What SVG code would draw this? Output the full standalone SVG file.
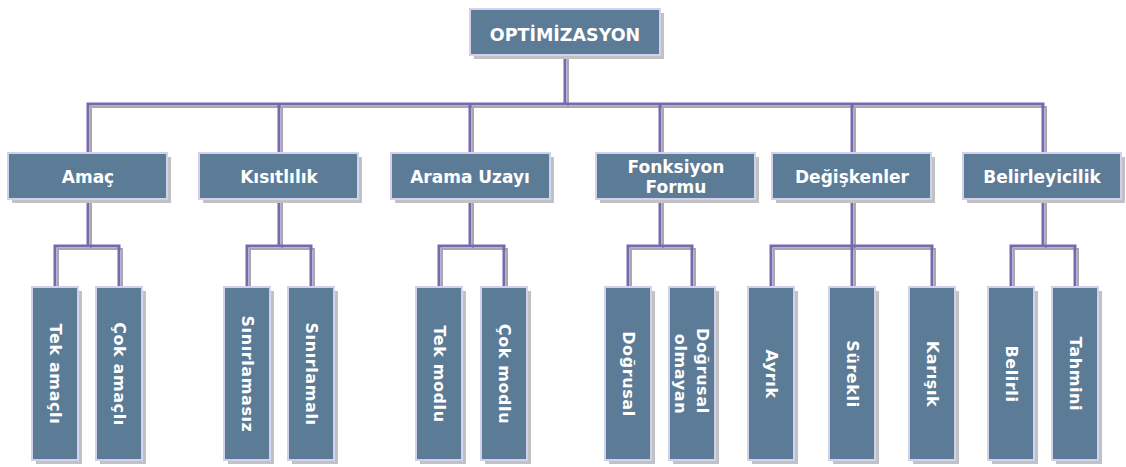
<svg xmlns="http://www.w3.org/2000/svg" width="1126" height="467" viewBox="0 0 1126 467">
  <style>
    .shadow { fill: #c2c2c4; }
    .box { fill: #5b7b96; stroke: #d2d0ea; stroke-width: 2; }
    .t { fill: #ffffff; font-family: "DejaVu Sans", Verdana, sans-serif; }
    .h { font-weight: bold; font-size: 17px; text-anchor: middle; }
    .top { font-weight: bold; font-size: 17.5px; text-anchor: middle; }
    .v { font-weight: bold; font-size: 16px; letter-spacing: 0.6px; text-anchor: middle; dominant-baseline: central; }
    .wire { fill: none; stroke: #7868b0; stroke-width: 3; }
    .wire-shadow { fill: none; stroke: #a9a9ad; stroke-width: 2; }
  </style>

  <!-- connectors: gray drop line behind, purple line on top -->
  <g id="connectors">
    <g class="wire-shadow" transform="translate(3,3)">
      <path d="M565 55 V104 M88 153 V104 H1043 V153 M279 104 V153 M470 104 V153 M660 104 V153 M852 104 V153"/>
      <path d="M88 199 V246 M55 287 V246 H119 V287"/>
      <path d="M279 199 V246 M247 287 V246 H311 V287"/>
      <path d="M470 199 V246 M439 287 V246 H504 V287"/>
      <path d="M660 199 V246 M628 287 V246 H692 V287"/>
      <path d="M852 199 V287 M771 287 V246 H932 V287"/>
      <path d="M1043 199 V246 M1011 287 V246 H1075 V287"/>
    </g>
    <g class="wire">
      <path d="M565 55 V104 M88 153 V104 H1043 V153 M279 104 V153 M470 104 V153 M660 104 V153 M852 104 V153"/>
      <path d="M88 199 V246 M55 287 V246 H119 V287"/>
      <path d="M279 199 V246 M247 287 V246 H311 V287"/>
      <path d="M470 199 V246 M439 287 V246 H504 V287"/>
      <path d="M660 199 V246 M628 287 V246 H692 V287"/>
      <path d="M852 199 V287 M771 287 V246 H932 V287"/>
      <path d="M1043 199 V246 M1011 287 V246 H1075 V287"/>
    </g>
  </g>

  <!-- root -->
  <g id="optimizasyon">
    <rect class="shadow" x="474" y="13" width="190" height="46"/>
    <rect class="box" x="470" y="9" width="190" height="46"/>
    <text class="t top" x="565" y="41">OPTİMİZASYON</text>
  </g>

  <!-- second level -->
  <g id="amac">
    <rect class="shadow" x="12" y="157" width="159" height="46"/>
    <rect class="box" x="8" y="153" width="159" height="46"/>
    <text class="t h" x="88" y="183">Amaç</text>
  </g>
  <g id="kisitlilik">
    <rect class="shadow" x="203" y="157" width="159" height="46"/>
    <rect class="box" x="199" y="153" width="159" height="46"/>
    <text class="t h" x="279" y="183">Kısıtlılık</text>
  </g>
  <g id="arama-uzayi">
    <rect class="shadow" x="395" y="157" width="159" height="46"/>
    <rect class="box" x="391" y="153" width="159" height="46"/>
    <text class="t h" x="470" y="183">Arama Uzayı</text>
  </g>
  <g id="fonksiyon-formu">
    <rect class="shadow" x="600" y="157" width="159" height="46"/>
    <rect class="box" x="596" y="153" width="159" height="46"/>
    <text class="t h" x="676" y="173">Fonksiyon</text>
    <text class="t h" x="676" y="193">Formu</text>
  </g>
  <g id="degiskenler">
    <rect class="shadow" x="776" y="157" width="159" height="46"/>
    <rect class="box" x="772" y="153" width="159" height="46"/>
    <text class="t h" x="852" y="183">Değişkenler</text>
  </g>
  <g id="belirleyicilik">
    <rect class="shadow" x="967" y="157" width="158" height="46"/>
    <rect class="box" x="963" y="153" width="158" height="46"/>
    <text class="t h" x="1042" y="183">Belirleyicilik</text>
  </g>

  <!-- third level: tall boxes with vertical labels -->
  <g id="tek-amacli">
    <rect class="shadow" x="36" y="291" width="46" height="173"/>
    <rect class="box" x="32" y="287" width="46" height="173"/>
    <text class="t v" transform="translate(55,374) rotate(90)">Tek amaçlı</text>
  </g>
  <g id="cok-amacli">
    <rect class="shadow" x="100" y="291" width="46" height="173"/>
    <rect class="box" x="96" y="287" width="46" height="173"/>
    <text class="t v" transform="translate(119,374) rotate(90)">Çok amaçlı</text>
  </g>
  <g id="sinirlamasiz">
    <rect class="shadow" x="228" y="291" width="46" height="173"/>
    <rect class="box" x="224" y="287" width="46" height="173"/>
    <text class="t v" transform="translate(247,374) rotate(90)">Sınırlamasız</text>
  </g>
  <g id="sinirlamali">
    <rect class="shadow" x="292" y="291" width="46" height="173"/>
    <rect class="box" x="288" y="287" width="46" height="173"/>
    <text class="t v" transform="translate(311,374) rotate(90)">Sınırlamalı</text>
  </g>
  <g id="tek-modlu">
    <rect class="shadow" x="420" y="291" width="46" height="173"/>
    <rect class="box" x="416" y="287" width="46" height="173"/>
    <text class="t v" transform="translate(439,374) rotate(90)">Tek modlu</text>
  </g>
  <g id="cok-modlu">
    <rect class="shadow" x="485" y="291" width="46" height="173"/>
    <rect class="box" x="481" y="287" width="46" height="173"/>
    <text class="t v" transform="translate(504,374) rotate(90)">Çok modlu</text>
  </g>
  <g id="dogrusal">
    <rect class="shadow" x="609" y="291" width="46" height="173"/>
    <rect class="box" x="605" y="287" width="46" height="173"/>
    <text class="t v" transform="translate(628,374) rotate(90)">Doğrusal</text>
  </g>
  <g id="dogrusal-olmayan">
    <rect class="shadow" x="673" y="291" width="46" height="173"/>
    <rect class="box" x="669" y="287" width="46" height="173"/>
    <text class="t v" transform="translate(692,374) rotate(90)">
      <tspan x="0" y="-11">Doğrusal</tspan>
      <tspan x="0" y="11">olmayan</tspan>
    </text>
  </g>
  <g id="ayrik">
    <rect class="shadow" x="752" y="291" width="46" height="173"/>
    <rect class="box" x="748" y="287" width="46" height="173"/>
    <text class="t v" transform="translate(771,374) rotate(90)">Ayrık</text>
  </g>
  <g id="surekli">
    <rect class="shadow" x="833" y="291" width="46" height="173"/>
    <rect class="box" x="829" y="287" width="46" height="173"/>
    <text class="t v" transform="translate(852,374) rotate(90)">Sürekli</text>
  </g>
  <g id="karisik">
    <rect class="shadow" x="913" y="291" width="46" height="173"/>
    <rect class="box" x="909" y="287" width="46" height="173"/>
    <text class="t v" transform="translate(932,374) rotate(90)">Karışık</text>
  </g>
  <g id="belirli">
    <rect class="shadow" x="992" y="291" width="46" height="173"/>
    <rect class="box" x="988" y="287" width="46" height="173"/>
    <text class="t v" transform="translate(1011,374) rotate(90)">Belirli</text>
  </g>
  <g id="tahmini">
    <rect class="shadow" x="1056" y="291" width="46" height="173"/>
    <rect class="box" x="1052" y="287" width="46" height="173"/>
    <text class="t v" transform="translate(1075,374) rotate(90)">Tahmini</text>
  </g>
</svg>
